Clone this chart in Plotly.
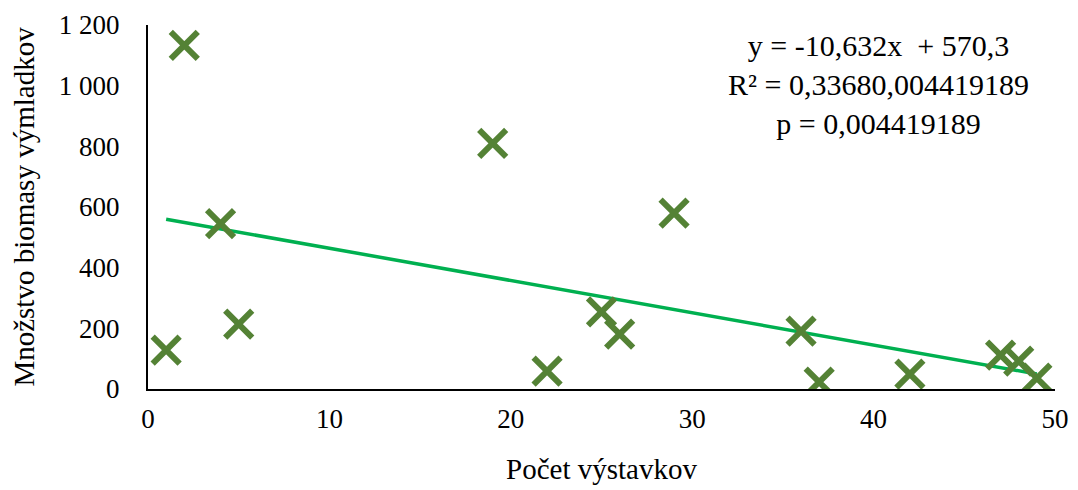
import plotly.graph_objects as go

# Data
x_vals = [1, 2, 4, 5, 19, 22, 25, 26, 29, 36, 37, 42, 47, 48, 49]
y_vals = [128, 1133, 545, 214, 810, 59, 254, 181, 580, 191, 23, 49, 112, 92, 36]
slope = -10.632
intercept = 570.3
y_ticks = [0, 200, 400, 600, 800, 1000, 1200]
y_tick_labels = ["0", "200", "400", "600", "800", "1 000", "1 200"]
x_ticks = [0, 10, 20, 30, 40, 50]
stats_lines = ["y = -10,632x  + 570,3", "R² = 0,33680,004419189", "p = 0,004419189"]

font_family = "Liberation Serif, Times New Roman, serif"

x_line = [min(x_vals), max(x_vals)]
y_line = [slope * v + intercept for v in x_line]

fig = go.Figure()
fig.add_trace(go.Scatter(
    x=x_line, y=y_line, mode="lines",
    line=dict(color="#00B050", width=3.5),
    showlegend=False, hoverinfo="skip"))
fig.add_trace(go.Scatter(
    x=x_vals, y=y_vals, mode="markers",
    marker=dict(symbol="x-thin", size=27, line=dict(color="#548235", width=6), color="#548235"),
    showlegend=False))

fig.add_annotation(
    x=0.805, y=(389 - 84) / 364, xref="paper", yref="paper",
    xanchor="center", yanchor="middle",
    text="<br>".join(stats_lines), showarrow=False, align="center",
    font=dict(family=font_family, size=30, color="black"))

fig.update_layout(
    width=1070, height=482,
    margin=dict(l=140, r=23, t=17, b=101),
    paper_bgcolor="white", plot_bgcolor="white",
    font=dict(family=font_family, size=27, color="black"),
    xaxis=dict(range=[0, 50], tickvals=x_ticks, showgrid=False, zeroline=False,
               showline=True, linecolor="black", linewidth=2,
               ticks="outside", ticklen=5, tickcolor="rgba(0,0,0,0)",
               automargin=False,
               title=dict(text="Počet výstavkov", font=dict(size=29), standoff=25),
               tickfont=dict(size=27)),
    yaxis=dict(range=[0, 1200], tickvals=y_ticks, ticktext=y_tick_labels, showgrid=False,
               zeroline=False, showline=True, linecolor="black", linewidth=2,
               ticks="outside", ticklen=21, tickcolor="rgba(0,0,0,0)",
               automargin=False,
               title=dict(text="Množstvo biomasy výmladkov", font=dict(size=29), standoff=20),
               tickfont=dict(size=27)),
)

fig.write_html("out.html")
